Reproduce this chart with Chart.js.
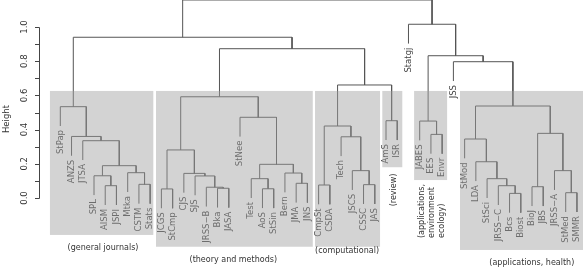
<!DOCTYPE html>
<html>
<head>
<meta charset="utf-8">
<script src="https://cdn.jsdelivr.net/npm/chart.js@4.4.1/dist/chart.umd.min.js"></script>
<style>
  html, body { margin: 0; padding: 0; background: #fff; }
  canvas { display: block; }
</style>
</head>
<body>
<canvas id="dendro" width="583" height="269"></canvas>
<script>
// ---------- Data ----------
const leaves = [
  "StPap", "ANZS", "JTSA", "SPL", "AISM", "JSPI", "Mtka", "CSTM", "Stats",
  "JCGS", "StCmp", "CJS", "SJS", "JRSS\u2212B", "Bka", "JASA", "StNee", "Test",
  "AoS", "StSin", "Bern", "JMA", "JNS",
  "CmpSt", "CSDA", "Tech", "JSCS", "CSSC", "JAS",
  "AmS", "ISR", "Statgj", "JABES", "EES", "Envr", "JSS",
  "StMod", "LDA", "StSci", "JRSS\u2212C", "Bcs", "Biost", "BioJ", "JBS",
  "JRSS\u2212A", "StMed", "SMMR"
];

// merges, bottom up: a string is a leaf, a number is an earlier merge
const mergeLeft = [
  "AISM", "SPL", "CSTM", "Mtka", 1, "JTSA", "ANZS", "StPap",
  "JCGS", "Bka", "JRSS\u2212B", "SJS", "CJS", 8, "AoS", "Test", "JMA", "Bern", 15, "StNee", 13,
  "CmpSt", "CSSC", "JSCS", "Tech", 21, "AmS", 25, 20, 7,
  "EES", "JABES", "Bcs", "JRSS\u2212C", "StSci", "LDA", "StMod", "BioJ", "StMed", "JRSS\u2212A", 37, 36,
  "JSS", 31, "Statgj", 29
];
const mergeRight = [
  "JSPI", 0, "Stats", 2, 3, 4, 5, 6,
  "StCmp", "JASA", 9, 10, 11, 12, "StSin", 14, "JNS", 16, 17, 18, 19,
  "CSDA", "JAS", 22, 23, 24, "ISR", 26, 27, 28,
  "Envr", 30, "Biost", 32, 33, 34, 35, "JBS", "SMMR", 38, 39, 40,
  41, 42, 43, 44
];
const mergeHeight = [
  0.072, 0.130, 0.080, 0.148, 0.189, 0.335, 0.360, 0.534,
  0.053, 0.057, 0.063, 0.129, 0.144, 0.281, 0.054, 0.113, 0.086, 0.146, 0.197, 0.472, 0.592,
  0.076, 0.078, 0.160, 0.358, 0.421, 0.452, 0.661, 0.873, 0.940,
  0.372, 0.450, 0.027, 0.072, 0.113, 0.212, 0.345, 0.066, 0.031, 0.160, 0.378, 0.538,
  0.797, 0.832, 1.016, 1.158
];

const yTicks = [0, 0.1, 0.2, 0.3, 0.4, 0.5, 0.6, 0.7, 0.8, 0.9, 1.0];
const yTickLabels = ["0.0", "", "0.2", "", "0.4", "", "0.6", "", "0.8", "", "1.0"];

const groupNames = [
  ["(general journals)"],
  ["(theory and methods)"],
  ["(computational)"],
  ["(review)"],
  ["(applications,", "environment", "ecology)"],
  ["(applications, health)"]
];

// ---------- Layout (leaf units / height units) ----------
const hang = 0.113;
const boxes = [
  { x0: -0.92, x1: 8.28, y0: -0.216 },
  { x0: 8.52, x1: 22.48, y0: -0.285 },
  { x0: 22.68, x1: 28.47, y0: -0.285 },
  { x0: 28.67, x1: 30.45, y0: 0.18 },
  { x0: 31.5, x1: 34.44, y0: 0.105 },
  { x0: 35.59, x1: 46.6, y0: -0.304 }
];
const boxTop = 0.626;
const groupLabelPos = [
  { x: 3.8, y: -0.292, rot: false },
  { x: 15.4, y: -0.363, rot: false },
  { x: 25.53, y: -0.31, rot: false },
  { x: 29.74, y: 0.047, rot: true, center: true },
  { x: 32.18, y: -0.234, rot: true },
  { x: 41.98, y: -0.38, rot: false }
];

// ---------- Build segments ----------
const nodeX = [];
const nodeX_of = ref => typeof ref === "string" ? leaves.indexOf(ref) : nodeX[ref];

const datasets = [];
mergeHeight.forEach((h, k) => {
  const l = mergeLeft[k], r = mergeRight[k];
  const xl = nodeX_of(l), xr = nodeX_of(r);
  nodeX[k] = (xl + xr) / 2;
  const hl = typeof l === "string" ? h - hang : mergeHeight[l];
  const hr = typeof r === "string" ? h - hang : mergeHeight[r];
  datasets.push({
    data: [{ x: xl, y: hl }, { x: xl, y: h }, { x: xr, y: h }, { x: xr, y: hr }],
    showLine: true,
    borderColor: "#555",
    borderWidth: 1,
    pointRadius: 0,
    fill: false,
    clip: false
  });
});

// leaf end heights for labels
const leafEnd = {};
mergeHeight.forEach((h, k) => {
  [mergeLeft[k], mergeRight[k]].forEach(ref => {
    if (typeof ref === "string") leafEnd[ref] = h - hang;
  });
});

// ---------- Plugin: labels, axis, boxes ----------
const dendroDecor = {
  id: "dendroDecor",
  afterDatasetsDraw(chart) {
    const ctx = chart.ctx;
    const xs = chart.scales.x, ys = chart.scales.y;
    ctx.save();

    // leaf labels
    ctx.font = "8.5px 'DejaVu Sans'";
    ctx.fillStyle = "#444";
    ctx.textAlign = "right";
    ctx.textBaseline = "middle";
    leaves.forEach((name, i) => {
      const px = xs.getPixelForValue(i);
      const py = ys.getPixelForValue(leafEnd[name]) + 4;
      ctx.save();
      ctx.translate(px, py);
      ctx.rotate(-Math.PI / 2);
      ctx.fillText(name, 0, 0);
      ctx.restore();
    });

    // grey group boxes (over the tree)
    ctx.fillStyle = "rgba(159,159,159,0.46)";
    boxes.forEach(b => {
      const x0 = xs.getPixelForValue(b.x0), x1 = xs.getPixelForValue(b.x1);
      const yTop = ys.getPixelForValue(boxTop), yBot = ys.getPixelForValue(b.y0);
      ctx.fillRect(x0, yTop, x1 - x0, yBot - yTop);
    });

    // group labels
    ctx.font = "8px 'DejaVu Sans'";
    ctx.fillStyle = "#333";
    groupNames.forEach((lines, g) => {
      const p = groupLabelPos[g];
      const px = xs.getPixelForValue(p.x), py = ys.getPixelForValue(p.y);
      if (!p.rot) {
        ctx.textAlign = "center";
        ctx.textBaseline = "middle";
        ctx.fillText(lines[0], px, py);
      } else {
        ctx.save();
        ctx.translate(px, py);
        ctx.rotate(-Math.PI / 2);
        ctx.textAlign = p.center ? "center" : "left";
        ctx.textBaseline = "middle";
        lines.forEach((t, j) => ctx.fillText(t, 0, j * 10));
        ctx.restore();
      }
    });

    // y axis
    const axX = 39.5;
    ctx.strokeStyle = "#444";
    ctx.lineWidth = 1;
    ctx.beginPath();
    ctx.moveTo(axX, Math.round(ys.getPixelForValue(0)) + 0.5);
    ctx.lineTo(axX, Math.round(ys.getPixelForValue(1)) + 0.5);
    yTicks.forEach(v => {
      const py = Math.round(ys.getPixelForValue(v)) + 0.5;
      ctx.moveTo(axX, py);
      ctx.lineTo(axX - 4.5, py);
    });
    ctx.stroke();

    ctx.font = "8.5px 'DejaVu Sans'";
    ctx.fillStyle = "#333";
    ctx.textAlign = "center";
    ctx.textBaseline = "middle";
    yTicks.forEach((v, i) => {
      if (!yTickLabels[i]) return;
      ctx.save();
      ctx.translate(25, ys.getPixelForValue(v));
      ctx.rotate(-Math.PI / 2);
      ctx.fillText(yTickLabels[i], 0, 0);
      ctx.restore();
    });
    ctx.save();
    ctx.translate(7, 119);
    ctx.rotate(-Math.PI / 2);
    ctx.fillText("Height", 0, 0);
    ctx.restore();

    ctx.restore();
  }
};

// ---------- Chart ----------
new Chart(document.getElementById("dendro"), {
  type: "scatter",
  data: { datasets },
  options: {
    responsive: false,
    animation: false,
    devicePixelRatio: 1,
    layout: { padding: 0 },
    plugins: { legend: { display: false }, tooltip: { enabled: false } },
    scales: {
      x: { type: "linear", display: false, min: -5.37, max: 46.54 },
      y: { type: "linear", display: false, min: -0.4152, max: 1.1579 }
    }
  },
  plugins: [dendroDecor]
});
</script>
</body>
</html>
